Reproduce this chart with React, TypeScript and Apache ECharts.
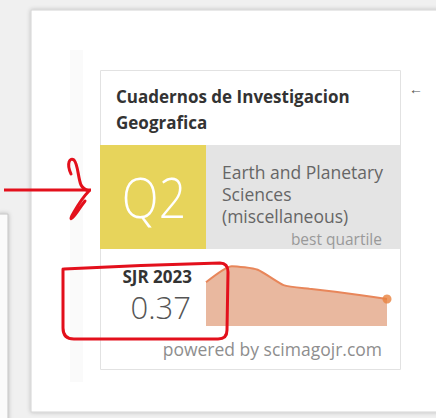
import React, { useEffect, useRef } from "react";
import * as echarts from "echarts";

const years = ["2016", "2017", "2018", "2019", "2020", "2021", "2022", "2023"];
const sjrValues = [0.6, 0.82, 0.77, 0.56, 0.51, 0.47, 0.42, 0.37];
const journalTitle = ["Cuadernos de Investigacion", "Geografica"];
const categoryLines = ["Earth and Planetary", "Sciences", "(miscellaneous)"];
const quartile = "Q2";
const sjrLabel = "SJR 2023";
const sjrText = "0.37";

echarts.graphic.registerShape(
  "redbox",
  echarts.graphic.extendPath(
    "M64 269 Q140 265 220 263 Q228 263 228 272 L227 330 Q227 339 218 339 L74 339 Q63 339 63 328 L63 269",
    {}
  )
);
echarts.graphic.registerShape(
  "squiggle",
  echarts.graphic.extendPath(
    "M71 174 C66 163 70 157 74 160 C78 164 78 178 81 185 C83 189 86 190 89 191 C84 196 78 205 74 212 C71 217 70 220 72 218 C76 215 80 207 85 201",
    {}
  )
);

const FONT = "'Open Sans', 'Noto Sans', sans-serif";

export default function App() {
  const ref = useRef<HTMLDivElement>(null);
  useEffect(() => {
    if (!ref.current) return;
    const chart = echarts.init(ref.current, undefined, { renderer: "svg" });
    const txt = (x: number, y: number, text: string, size: number, color: string, weight: any, align: string, extra: any = {}) => ({
      type: "text",
      x,
      y,
      z: 5,
      ...extra,
      style: {
        text,
        fontSize: size,
        fontFamily: FONT,
        fontWeight: weight,
        fill: color,
        align,
        textAlign: align,
        verticalAlign: "middle",
        textVerticalAlign: "middle",
      },
    });
    chart.setOption({
      animation: false,
      backgroundColor: "#f0f0f0",
      grid: { left: 206, right: 49, top: 253, bottom: 92 },
      xAxis: { type: "category", data: years, boundaryGap: false, show: false },
      yAxis: { type: "value", min: 0, max: 1, show: false },
      graphic: [
        { type: "rect", z: 0, shape: { x: -2, y: 214, width: 10, height: 210 }, style: { fill: "#fbfbfb", stroke: "#c4c4c4", lineWidth: 1, shadowBlur: 4, shadowColor: "rgba(0,0,0,0.25)" } },
        { type: "rect", z: 0, shape: { x: 31, y: 10, width: 420, height: 402 }, style: { fill: "#ffffff", stroke: "#d4d4d4", lineWidth: 1, shadowBlur: 4, shadowColor: "rgba(0,0,0,0.22)" } },
        { type: "rect", z: 0, shape: { x: 70, y: 50, width: 13, height: 332 }, style: { fill: "#fafafa" } },
        { type: "rect", z: 1, shape: { x: 100.5, y: 70.5, width: 300, height: 299 }, style: { fill: "#ffffff", stroke: "#e2e2e2", lineWidth: 1 } },
        { type: "rect", z: 1, shape: { x: 100, y: 145, width: 106, height: 104 }, style: { fill: "#e7d45b" } },
        { type: "rect", z: 1, shape: { x: 206, y: 145, width: 194, height: 104 }, style: { fill: "#e4e4e4" } },
        txt(116, 96, journalTitle[0], 17, "#333333", "bold", "left"),
        txt(116, 122, journalTitle[1], 17, "#333333", "bold", "left"),
        txt(416, 88, "←", 14, "#555555", "normal", "center"),
        txt(154, 196, quartile, 56, "#ffffff", 300, "center", { scaleX: 0.86, originX: 0, originY: 0 }),
        txt(222, 172, categoryLines[0], 17.5, "#666666", "normal", "left"),
        txt(222, 194, categoryLines[1], 17.5, "#666666", "normal", "left"),
        txt(222, 216, categoryLines[2], 17.5, "#666666", "normal", "left"),
        txt(382, 239, "best quartile", 15.5, "#999999", "normal", "right"),
        txt(192, 276, sjrLabel, 17, "#333333", "bold", "right"),
        txt(191, 307, sjrText, 31, "#555555", 300, "right"),
        txt(382, 349, "powered by scimagojr.com", 17.5, "#8e8e8e", "normal", "right"),
        { type: "line", z: 20, shape: { x1: 4, y1: 190, x2: 91, y2: 190 }, style: { stroke: "#e3101c", lineWidth: 3 } },
        { type: "squiggle", z: 20, style: { fill: "none", stroke: "#e3101c", lineWidth: 3, lineCap: "round", lineJoin: "round" } },
        { type: "redbox", z: 20, style: { fill: "none", stroke: "#e3101c", lineWidth: 3, lineCap: "round", lineJoin: "round" } },
      ],
      series: [
        {
          type: "line",
          data: sjrValues,
          smooth: 0.2,
          symbol: "none",
          z: 3,
          lineStyle: { color: "#e8865a", width: 2 },
          areaStyle: { color: "#e9b89f", opacity: 1 },
        },
        {
          type: "scatter",
          z: 4,
          data: sjrValues.map((v, i) => (i === sjrValues.length - 1 ? v : "-")),
          symbol: "circle",
          symbolSize: 9,
          itemStyle: { color: "#e9823f" },
        },
      ],
    });
    return () => chart.dispose();
  }, []);
  return <div ref={ref} style={{ position: "absolute", left: 0, top: 0, width: 436, height: 418 }} />;
}
